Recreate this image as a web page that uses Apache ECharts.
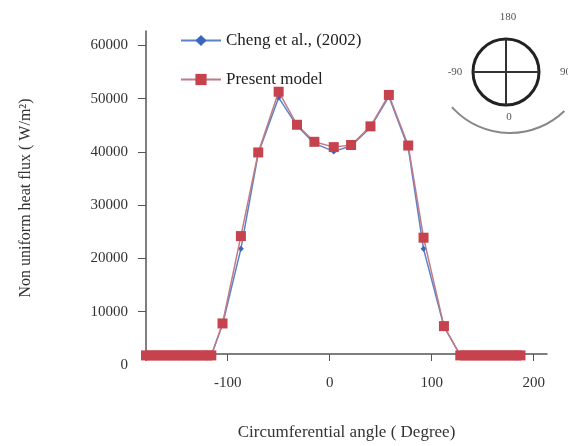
<!DOCTYPE html>
<html>
<head>
<meta charset="utf-8">
<script src="https://cdn.jsdelivr.net/npm/echarts@6/dist/echarts.min.js"></script>
<style>
  html, body { margin: 0; padding: 0; background: #fff; }
  #main { width: 568px; height: 446px; }
</style>
</head>
<body>
<div id="main"></div>
<script>
// angles (deg) and heat flux (W/m2)
var flatLeft = [-180, -175, -170, -165, -160, -155, -150, -145, -140, -135, -130, -125, -120, -116];
var flatRight = [128, 133, 138, 143, 148, 153, 158, 163, 168, 173, 178, 183, 187];
var flatValue = 1800;

var midAngles = [-105, -87, -70, -50, -32, -15, 4, 21, 40, 58, 77, 92, 112];
var presentMid = [7800, 24200, 39900, 51300, 45100, 41900, 40900, 41300, 44800, 50700, 41200, 23900, 7300];
var chengMid   = [7600, 21800, 39700, 50200, 44900, 41600, 40100, 41100, 44600, 50400, 40800, 21800, 7200];

var xTicks = [-100, 0, 100, 200];
var yTicks = [0, 10000, 20000, 30000, 40000, 50000, 60000];
var yTickMarks = [10000, 20000, 30000, 40000, 50000, 60000];

function build(mid) {
  var pts = [];
  flatLeft.forEach(function (a) { pts.push([a, flatValue]); });
  midAngles.forEach(function (a, i) { pts.push([a, mid[i]]); });
  flatRight.forEach(function (a) { pts.push([a, flatValue]); });
  return pts;
}

var chart = echarts.init(document.getElementById('main'));
var serif = 'Liberation Serif';

var option = {
  animation: false,
  backgroundColor: '#fff',
  textStyle: { fontFamily: serif },
  grid: { left: 146, right: 21, top: 31, bottom: 80 },
  legend: {
    orient: 'vertical',
    left: 175,
    top: 27,
    itemWidth: 40,
    itemHeight: 14,
    itemGap: 22,
    textStyle: { fontFamily: serif, fontSize: 17, color: '#222' },
    data: ['Cheng et al., (2002)', 'Present model']
  },
  xAxis: {
    type: 'value',
    min: -180,
    max: 213,
    offset: -11,
    name: 'Circumferential angle ( Degree)',
    nameLocation: 'middle',
    nameGap: 70,
    nameTextStyle: { fontFamily: serif, fontSize: 17, color: '#333' },
    axisLine: { onZero: false, lineStyle: { color: '#555', width: 1.5 } },
    axisTick: { length: 7, lineStyle: { color: '#555' }, customValues: xTicks },
    axisLabel: { margin: 22, fontFamily: serif, fontSize: 15, color: '#333', customValues: xTicks },
    splitLine: { show: false }
  },
  yAxis: {
    type: 'value',
    min: 0,
    max: 62700,
    name: 'Non uniform heat flux ( W/m\u00b2)',
    nameLocation: 'middle',
    nameGap: 112,
    nameRotate: 90,
    nameTextStyle: { fontFamily: serif, fontSize: 16, color: '#333' },
    axisLine: { show: true, onZero: false, lineStyle: { color: '#555', width: 1.5 } },
    axisTick: { length: 8, lineStyle: { color: '#555' }, customValues: yTickMarks },
    axisLabel: {
      margin: 18, fontFamily: serif, fontSize: 15, color: '#333', customValues: yTicks,
      formatter: function (v) { return String(v); }
    },
    splitLine: { show: false }
  },
  series: [
    {
      name: 'Cheng et al., (2002)',
      type: 'line',
      data: build(chengMid),
      symbol: 'diamond',
      symbolSize: 6,
      lineStyle: { color: '#5b82c9', width: 1.5 },
      itemStyle: { color: '#3a66bf' },
      z: 2
    },
    {
      name: 'Present model',
      type: 'line',
      data: build(presentMid),
      symbol: 'rect',
      symbolSize: 10,
      lineStyle: { color: '#c27a86', width: 1.5 },
      itemStyle: { color: '#c6424c' },
      z: 3
    }
  ],
  graphic: [
    // hide the stub of the y axis below the raised x axis
    {
      type: 'rect',
      z: 100,
      shape: { x: 142, y: 361, width: 8, height: 8 },
      style: { fill: '#fff' }
    },
    {
      type: 'arc',
      shape: { cx: 510, cy: 55, r: 78, startAngle: 0.8, endAngle: 2.41, clockwise: true },
      style: { stroke: '#888', lineWidth: 2, fill: null }
    },
    {
      type: 'circle',
      shape: { cx: 506, cy: 72, r: 33 },
      style: { stroke: '#222', lineWidth: 3, fill: '#fff' }
    },
    {
      type: 'line',
      shape: { x1: 473, y1: 72, x2: 539, y2: 72 },
      style: { stroke: '#333', lineWidth: 2 }
    },
    {
      type: 'line',
      shape: { x1: 506, y1: 39, x2: 506, y2: 105 },
      style: { stroke: '#333', lineWidth: 2 }
    },
    { type: 'text', x: 508, y: 17, style: { text: '180', fontFamily: serif, fontSize: 11, fill: '#555', align: 'center', verticalAlign: 'middle' } },
    { type: 'text', x: 455, y: 72, style: { text: '-90', fontFamily: serif, fontSize: 11, fill: '#555', align: 'center', verticalAlign: 'middle' } },
    { type: 'text', x: 560, y: 72, style: { text: '90', fontFamily: serif, fontSize: 11, fill: '#555', align: 'left', verticalAlign: 'middle' } },
    { type: 'text', x: 509, y: 117, style: { text: '0', fontFamily: serif, fontSize: 11, fill: '#555', align: 'center', verticalAlign: 'middle' } }
  ]
};

chart.setOption(option);
window.addEventListener('resize', function () { chart.resize(); });
</script>
</body>
</html>
